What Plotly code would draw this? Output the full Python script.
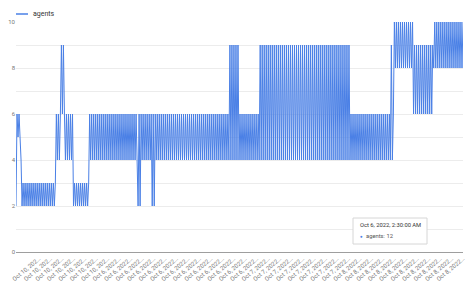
import plotly.graph_objects as go
import numpy as np

# Series values (left to right)
segA = [2, 6, 5, 6, 5, 4]
segB = [2, 3, 2, 3, 2, 3, 2, 3, 2, 3, 2, 3, 2, 3, 2, 3, 2, 3, 2, 3,
        2, 3, 2, 3, 2, 3, 2, 3, 2, 3, 2, 3, 2, 3]
segC = [6, 4, 6, 4, 6]
segD = [9, 6, 9, 6]
segE = [4, 6, 4, 6, 4, 6, 4, 6]
segF = [2, 3, 2, 3, 2, 3, 2, 3, 2, 3, 2, 3, 2, 3, 2, 3]
segG = [6, 4, 6, 4, 6, 4, 6, 4, 6, 4, 6, 4, 6, 4, 6, 4, 6, 4, 6, 4,
        6, 4, 6, 4, 6, 4, 6, 4, 6, 4, 6, 4, 6, 4, 6, 4, 6, 4, 6, 4,
        6, 4, 6, 4, 6, 4, 6, 4]
segH = [2, 6, 2, 6, 4, 6, 4, 6, 4, 6, 4, 6, 4, 6, 2, 6, 2, 6]
segI = [4, 6, 4, 6, 4, 6, 4, 6, 4, 6, 4, 6, 4, 6, 4, 6, 4, 6, 4, 6,
        4, 6, 4, 6, 4, 6, 4, 6, 4, 6, 4, 6, 4, 6, 4, 6, 4, 6, 4, 6,
        4, 6, 4, 6, 4, 6, 4, 6, 4, 6, 4, 6, 4, 6, 4, 6, 4, 6, 4, 6,
        4, 6, 4, 6, 4, 6, 4, 6, 4, 6, 4, 6]
segJ = [4, 9, 4, 9, 4, 9, 4, 9, 4, 9]
segK = [4, 6, 4, 6, 4, 6, 4, 6, 4, 6, 4, 6, 4, 6, 4, 6, 4, 6, 4, 6]
segL = [4, 9, 4, 9, 4, 9, 4, 9, 4, 9, 4, 9, 4, 9, 4, 9, 4, 9, 4, 9,
        4, 9, 4, 9, 4, 9, 4, 9, 4, 9, 4, 9, 4, 9, 4, 9, 4, 9, 4, 9,
        4, 9, 4, 9, 4, 9, 4, 9, 4, 9, 4, 9, 4, 9, 4, 9, 4, 9, 4, 9,
        4, 9, 4, 9, 4, 9, 4, 9, 4, 9, 4, 9, 4, 9, 4, 9, 4, 9, 4, 9,
        4, 9, 4, 9, 4, 9, 4, 9, 4, 9, 4]
segM = [6, 4, 6, 4, 6, 4, 6, 4, 6, 4, 6, 4, 6, 4, 6, 4, 6, 4, 6, 4,
        6, 4, 6, 4, 6, 4, 6, 4, 6, 4, 6, 4, 6, 4, 6, 4, 6, 4, 6, 4]
segN = [9, 4, 6, 10]
segO = [8, 10, 8, 10, 8, 10, 8, 10, 8, 10, 8, 10, 8, 10, 8, 10, 8, 10]
segP = [6, 9, 6, 9, 6, 9, 6, 9, 6, 9, 6, 9, 6, 9, 6, 9, 6, 9, 6, 9]
segQ = [8, 10, 8, 10, 8, 10, 8, 10, 8, 10, 8, 10, 8, 10, 8, 10,
        8, 10, 8, 10, 8, 10, 8, 10, 8, 10, 8, 10, 8, 10]

agents = (segA + segB + segC + segD + segE + segF + segG + segH + segI +
          segJ + segK + segL + segM + segN + segO + segP + segQ)

x_tick_labels = [
    "Oct 10, 202…", "Oct 10, 202…", "Oct 10, 202…", "Oct 10, 202…", "Oct 10, 202…",
    "Oct 10, 202…", "Oct 10, 202…", "Oct 10, 202…", "Oct 10, 202…",
    "Oct 6, 2022…", "Oct 6, 2022…", "Oct 6, 2022…", "Oct 6, 2022…", "Oct 6, 2022…",
    "Oct 6, 2022…", "Oct 6, 2022…", "Oct 6, 2022…", "Oct 6, 2022…", "Oct 6, 2022…",
    "Oct 6, 2022…", "Oct 6, 2022…", "Oct 6, 2022…",
    "Oct 7, 2022…", "Oct 7, 2022…", "Oct 7, 2022…", "Oct 7, 2022…", "Oct 7, 2022…",
    "Oct 7, 2022…", "Oct 7, 2022…", "Oct 7, 2022…",
    "Oct 8, 2022…", "Oct 8, 2022…", "Oct 8, 2022…", "Oct 8, 2022…", "Oct 8, 2022…",
    "Oct 8, 2022…", "Oct 8, 2022…", "Oct 8, 2022…", "Oct 8, 2022…", "Oct 8, 2022…",
]
y_tick_values = [0, 2, 4, 6, 8, 10]

tooltip_title = "Oct 6, 2022, 2:30:00 AM"
tooltip_series = "agents"
tooltip_value = 12

LINE = "#4a80e6"
N = len(agents)
xs = list(range(N))

fig = go.Figure()
fig.add_trace(go.Scatter(x=xs, y=agents, mode="lines",
                         line=dict(color=LINE, width=1), showlegend=False))

# plot area in px: x 16..463, y 22..252
L, R, T, B = 16, 463, 22, 252
W, H = 474, 290
def px(x):
    return (x - L) / (R - L)
def py(y):
    return (B - y) / (B - T)

tickvals = list(np.linspace(0, N - 1, len(x_tick_labels)))

fig.update_layout(
    width=W, height=H,
    margin=dict(l=L, r=W - R, t=T, b=H - B),
    paper_bgcolor="white", plot_bgcolor="white",
    font=dict(family="Roboto, Arial, sans-serif"),
    xaxis=dict(range=[0, N - 1], tickvals=tickvals, ticktext=x_tick_labels,
               tickangle=-40, tickfont=dict(size=6, color="#777777"),
               showgrid=False, zeroline=False, showline=True, automargin=False,
               linecolor="#9e9e9e", linewidth=1, ticks=""),
    yaxis=dict(range=[0, 10], tickvals=y_tick_values, automargin=False,
               tickfont=dict(size=6, color="#777777"),
               showgrid=True, gridcolor="#ececec", gridwidth=1,
               minor=dict(dtick=1, showgrid=True, gridcolor="#ececec"),
               zeroline=False, ticks=""),
    shapes=[
        dict(type="line", xref="paper", yref="paper",
             x0=px(16), x1=px(28), y0=py(14), y1=py(14),
             line=dict(color=LINE, width=1.5)),
        dict(type="rect", xref="paper", yref="paper",
             x0=px(353), x1=px(427), y0=py(244), y1=py(218),
             fillcolor="white", line=dict(color="#d6d6d6", width=1)),
    ],
    annotations=[
        dict(xref="paper", yref="paper", x=px(31), y=py(14), text="agents",
             showarrow=False, xanchor="left", yanchor="middle",
             font=dict(size=7, color="#333333")),
        dict(xref="paper", yref="paper", x=px(358), y=py(225), text=tooltip_title,
             showarrow=False, xanchor="left", yanchor="middle",
             font=dict(size=5.8, color="#333333")),
        dict(xref="paper", yref="paper", x=px(358), y=py(236), text="●",
             showarrow=False, xanchor="left", yanchor="middle",
             font=dict(size=4.5, color=LINE)),
        dict(xref="paper", yref="paper", x=px(364), y=py(236),
             text=f"{tooltip_series}: {tooltip_value}",
             showarrow=False, xanchor="left", yanchor="middle",
             font=dict(size=5.8, color="#555555")),
    ],
)

fig.write_html("out.html")
